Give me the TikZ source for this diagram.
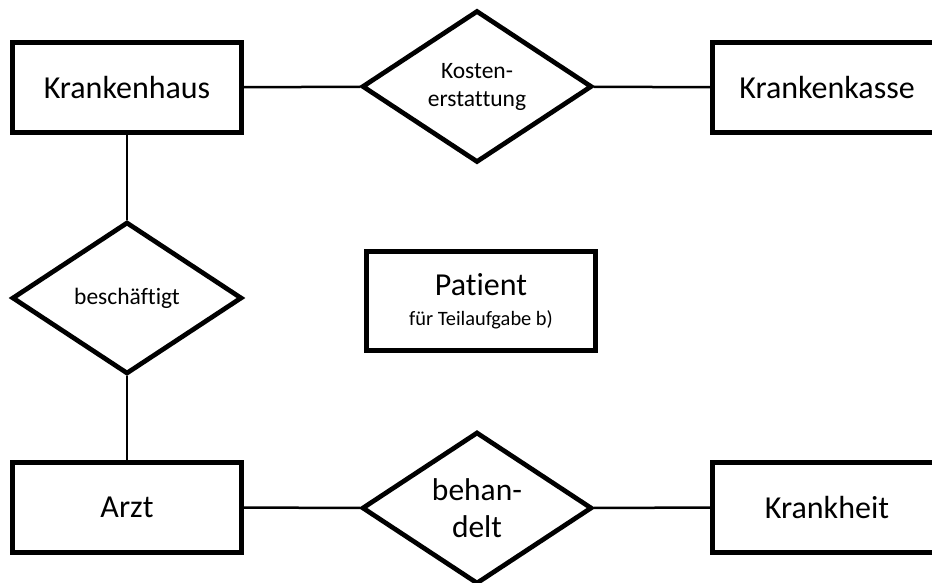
\documentclass[tikz,border=0pt]{standalone}
\usepackage{fontspec}
\setmainfont{Carlito}[Ligatures=NoCommon]
\usetikzlibrary{shapes.geometric}
\begin{document}
\begin{tikzpicture}[x=1pt,y=-1pt,
  entity/.style={draw, line width=4.7pt, rectangle, minimum width=229pt, minimum height=90pt, inner sep=0pt, font=\fontsize{32}{38}\selectfont},
  rel/.style={draw, line width=4.7pt, diamond, aspect=1.5, minimum width=230pt, minimum height=152pt, inner sep=0pt, align=center},
  smallrel/.style={rel, font=\fontsize{23.5}{28}\selectfont},
  bigrel/.style={rel, font=\fontsize{31.5}{37.5}\selectfont},
  conn/.style={line width=2.5pt}]
\useasboundingbox (0,0) rectangle (932,583);
\node[entity] (kh) at (127,87.5) {Krankenhaus};
\node[smallrel] (ke) at (477,86.5) {Kosten-\\erstattung};
\node[entity] (kk) at (827,87.5) {Krankenkasse};
\node[smallrel] (bs) at (127,298) {beschäftigt};
\node[entity, minimum width=228.5pt, minimum height=99pt, align=center, font=\fontsize{32}{30}\selectfont] (pat) at (481,301) {Patient\\\fontsize{20.4}{30}\selectfont für Teilaufgabe b)};
\node[entity] (arzt) at (127,507.5) {Arzt};
\node[bigrel] (bh) at (477,508) {behan-\\delt};
\node[entity] (kr) at (827,507.5) {Krankheit};
\draw[conn] (kh) -- (ke);
\draw[conn] (ke) -- (kk);
\draw[conn] (kh) -- (bs);
\draw[conn] (bs) -- (arzt);
\draw[conn] (arzt) -- (bh);
\draw[conn] (bh) -- (kr);
\end{tikzpicture}
\end{document}
